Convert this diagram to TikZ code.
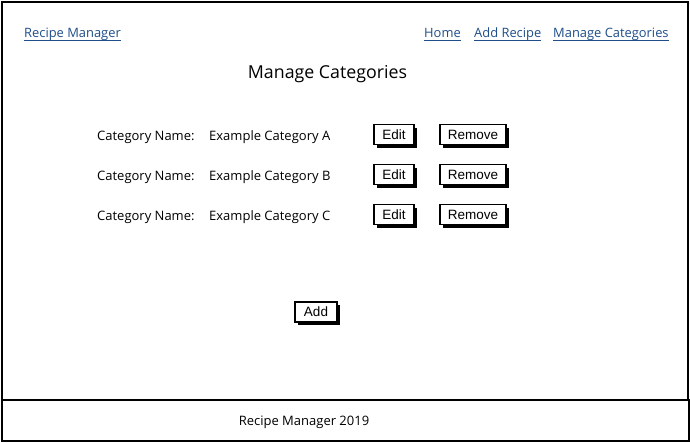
\documentclass[tikz,border=0pt]{standalone}
\usepackage{fontspec}
\setmainfont{Open Sans}
\newfontfamily\btnfont{Liberation Sans}
\usetikzlibrary{shadows}
\definecolor{linkblue}{HTML}{1F4E8A}
\begin{document}
\begin{tikzpicture}[x=1pt,y=-1pt,
  frame/.style={draw=black,line width=2pt},
  link/.style={text=linkblue,font=\fontsize{12.9}{15}\selectfont,inner sep=0pt,anchor=base west},
  uline/.style={draw=linkblue,line width=1pt},
  lbl/.style={font=\fontsize{13}{15}\selectfont,inner sep=0pt,anchor=base west},
  btn/.style={draw=black,line width=1.2pt,fill=white,minimum height=20pt,inner sep=0pt,
    font=\btnfont\fontsize{13.5}{15}\selectfont,
    drop shadow={shadow xshift=3pt,shadow yshift=-3pt,opacity=1,fill=black}},
]
\useasboundingbox (0,0) rectangle (690,442);
\fill[white] (0,0) rectangle (690,442);
% frames
\draw[frame] (1.5,1.5) rectangle (688,399.5);
\draw[frame] (1.5,399.5) rectangle (688.5,440.5);
% nav links
\node[link] (lrm) at (24,37) {Recipe Manager};
\node[link] (lhome) at (424,37) {Home};
\node[link] (ladd) at (474,37) {Add Recipe};
\node[link] (lmc) at (553,37) {Manage Categories};
\foreach \n in {lrm,lhome,ladd,lmc}
  \draw[uline] ([yshift=-3pt]\n.base west) -- ([yshift=-3pt]\n.base east);
% title
\node[font=\fontsize{17.8}{21}\selectfont,inner sep=0pt,anchor=base] (title) at (327.5,78) {Manage Categories};
% rows
\node[lbl] (cn1) at (97,140) {Category Name:};
\node[lbl] (cv1) at (209,140) {Example Category A};
\node[btn,minimum width=40pt] (e1) at (394,134.5) {Edit};
\node[btn,minimum width=66pt] (r1) at (473,134.5) {Remove};
\node[lbl] (cn2) at (97,180) {Category Name:};
\node[lbl] (cv2) at (209,180) {Example Category B};
\node[btn,minimum width=40pt] (e2) at (394,174.5) {Edit};
\node[btn,minimum width=66pt] (r2) at (473,174.5) {Remove};
\node[lbl] (cn3) at (97,220) {Category Name:};
\node[lbl] (cv3) at (209,220) {Example Category C};
\node[btn,minimum width=40pt] (e3) at (394,214.5) {Edit};
\node[btn,minimum width=66pt] (r3) at (473,214.5) {Remove};
% add
\node[btn,minimum width=42pt] (add) at (316,312) {Add};
% footer
\node[font=\fontsize{13}{15}\selectfont,inner sep=0pt,anchor=base] (foot) at (304,425) {Recipe Manager 2019};
\end{tikzpicture}
\end{document}
